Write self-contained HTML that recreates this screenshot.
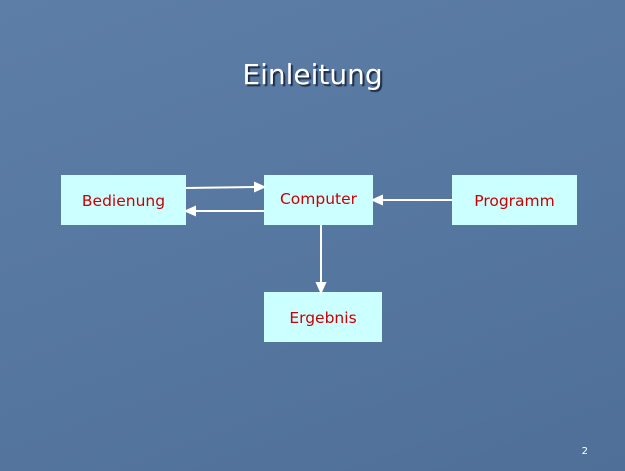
<!DOCTYPE html>
<html><head><style>
body{margin:0;width:625px;height:471px;overflow:hidden;background:linear-gradient(160deg,#5d7ea6 0%,#5677a0 50%,#4f6f98 100%);font-family:"DejaVu Sans","Liberation Sans",sans-serif;position:relative}
.t{position:absolute;left:0;width:625px;top:58px;text-align:center;color:#fff;font-size:28px;text-shadow:2px 2px 1px #1c2c44}
.b{position:absolute;background:#ccffff;color:#cc0000;font-size:15.5px;display:flex;align-items:center;justify-content:center;box-sizing:border-box}
.n{position:absolute;right:37px;top:446px;color:#fff;font-size:10px}
</style></head><body>
<div class="t">Einleitung</div>
<div class="b" style="left:61px;top:175px;width:125px;height:50px;padding-top:2px">Bedienung</div>
<div class="b" style="left:264px;top:175px;width:109px;height:50px;padding-bottom:2px">Computer</div>
<div class="b" style="left:452px;top:175px;width:125px;height:50px;padding-top:2px">Programm</div>
<div class="b" style="left:264px;top:292px;width:118px;height:50px;padding-top:2px">Ergebnis</div>
<svg width="625" height="471" style="position:absolute;left:0;top:0">
<g stroke="#fff" stroke-width="2" fill="#fff">
<line x1="186" y1="188" x2="256" y2="187"/><polygon points="264,187 255,183 255,191"/>
<line x1="264" y1="211" x2="194" y2="211"/><polygon points="186,211 195,207 195,215"/>
<line x1="452" y1="200" x2="381" y2="200"/><polygon points="373,200 382,196 382,204"/>
<line x1="321" y1="225" x2="321" y2="284"/><polygon points="321,292 317,283 325,283"/>
</g></svg>
<div class="n">2</div>
</body></html>
